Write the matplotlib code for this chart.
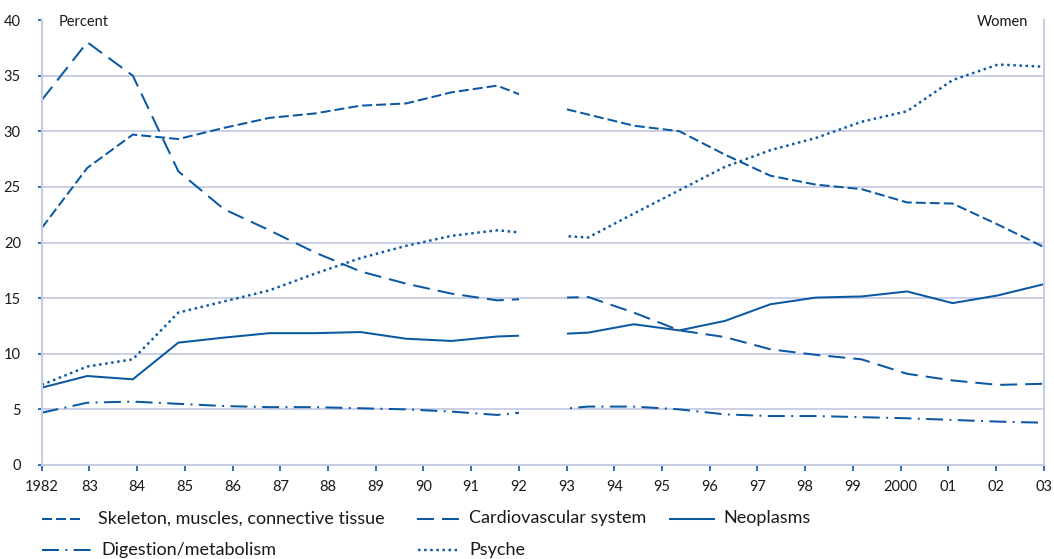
import numpy as np
import matplotlib.pyplot as plt
import matplotlib.transforms as mtransforms
from matplotlib.patches import Rectangle
from matplotlib.lines import Line2D

plt.rcParams['font.family'] = ['Lato', 'DejaVu Sans']
plt.rcParams['lines.scale_dashes'] = False

# x-axis labels (one per year)
years = list(range(1982, 2004))
year_labels = ['1982', '83', '84', '85', '86', '87', '88', '89', '90', '91', '92',
               '93', '94', '95', '96', '97', '98', '99', '2000', '01', '02', '03']

# 23 readings spread evenly from 1982 to 2003, series broken between 1992 and 1993
skeleton = [21.3, 26.7, 29.7, 29.3, 30.3, 31.2, 31.6, 32.3, 32.5, 33.5, 34.1, 32.5,
            31.5, 30.5, 30.0, 27.9, 26.0, 25.2, 24.8, 23.6, 23.5, 21.6, 19.6]
cardio = [32.8, 38.0, 35.0, 26.4, 23.0, 21.1, 19.1, 17.4, 16.3, 15.4, 14.8, 15.0,
          15.1, 13.7, 12.1, 11.5, 10.4, 9.9, 9.5, 8.2, 7.6, 7.2, 7.3]
neoplasms = [6.95, 8.0, 7.7, 11.0, 11.45, 11.85, 11.85, 11.95, 11.35, 11.15, 11.55, 11.7,
             11.9, 12.65, 12.1, 12.95, 14.45, 15.05, 15.15, 15.6, 14.55, 15.25, 16.25]
digestion = [4.7, 5.6, 5.7, 5.5, 5.3, 5.2, 5.2, 5.1, 5.0, 4.8, 4.5, 4.9,
             5.25, 5.25, 5.0, 4.55, 4.4, 4.4, 4.3, 4.2, 4.05, 3.9, 3.8]
psyche = [7.2, 8.85, 9.5, 13.7, 14.7, 15.7, 17.2, 18.6, 19.7, 20.6, 21.1, 20.7,
          20.45, 22.6, 24.7, 26.8, 28.3, 29.4, 30.85, 31.8, 34.6, 36.0, 35.8]

names = ['Skeleton, muscles, connective tissue', 'Cardiovascular system', 'Neoplasms',
         'Digestion/metabolism', 'Psyche']

blue = '#0b58a2'
grid_c = '#c6cce4'
W, H = 1054, 559

# dash patterns in points (px * 0.72)
styles = {
    'skel': (0, (7.2, 2.9)),
    'cardio': (0, (12.2, 5.8)),
    'neo': '-',
    'dig': (0, (12.2, 4.6, 1.4, 4.6)),
    'psy': (0, (1.8, 2.6)),
}
widths = {'skel': 1.45, 'cardio': 1.45, 'neo': 1.45, 'dig': 1.45, 'psy': 1.75}

fig = plt.figure(figsize=(W / 100, H / 100), dpi=100)
ax = fig.add_axes([41.7 / W, (H - 465) / H, (1043.7 - 41.7) / W, 445 / H])

x = np.linspace(years[0], years[-1], len(skeleton))
trans = mtransforms.blended_transform_factory(ax.transData, ax.transAxes)

series = [(skeleton, 'skel'), (cardio, 'cardio'), (neoplasms, 'neo'),
          (digestion, 'dig'), (psyche, 'psy')]
for vals, key in series:
    for x0, x1 in [(1980, 1992), (1993, 2005)]:
        ln, = ax.plot(x, vals, color=blue, lw=widths[key], linestyle=styles[key],
                      solid_capstyle='butt', dash_capstyle='butt')
        clip = Rectangle((x0, -0.1), x1 - x0, 1.2, transform=trans)
        ln.set_clip_path(clip)

ax.hlines(range(5, 40, 5), years[0], years[-1], color=grid_c, lw=1.3, zorder=0)

ax.set_xlim(years[0], years[-1])
ax.set_ylim(0, 40)
ax.set_xticks(years)
ax.set_xticklabels(year_labels)
ax.set_yticks(range(0, 41, 5))
ax.set_yticklabels([str(v) for v in range(0, 41, 5)])

for s in ['left', 'right', 'bottom']:
    ax.spines[s].set_color(grid_c)
    ax.spines[s].set_linewidth(1.5)
ax.spines['top'].set_visible(False)
ax.tick_params(axis='x', direction='out', length=4, width=1.2, color=blue,
               labelsize=10.5, pad=7, labelcolor='#1a1a1a')
ax.tick_params(axis='y', direction='out', length=3, width=1.2, color=blue,
               labelsize=10.5, pad=12, labelcolor='#1a1a1a')

fig.text(59 / W, 1 - 26 / H, 'Percent', fontsize=10.5, color='#1a1a1a', va='baseline')
fig.text(1028 / W, 1 - 26 / H, 'Women', fontsize=10.5, color='#1a1a1a',
         va='baseline', ha='right')

# legend drawn by hand: (handle x0, handle x1, text x, row y, style)
legend_rows = [
    (41.7, 80, 98, 518.5, 'skel'),
    (417, 460, 469, 518.5, 'cardio'),
    (670, 714, 723, 518.5, 'neo'),
    (41.7, 93, 101, 549.5, 'dig'),
    (418, 457, 469, 549.5, 'psy'),
]
for name, (hx0, hx1, tx, ry, key) in zip(names, legend_rows):
    fig.add_artist(Line2D([hx0 / W, hx1 / W], [1 - ry / H, 1 - ry / H],
                          transform=fig.transFigure, color=blue, lw=widths[key],
                          linestyle=styles[key], dash_capstyle='butt'))
    fig.text(tx / W, 1 - ry / H, name, fontsize=13, color='#1a1a1a', va='center')

fig.savefig('out.png', dpi=100)
